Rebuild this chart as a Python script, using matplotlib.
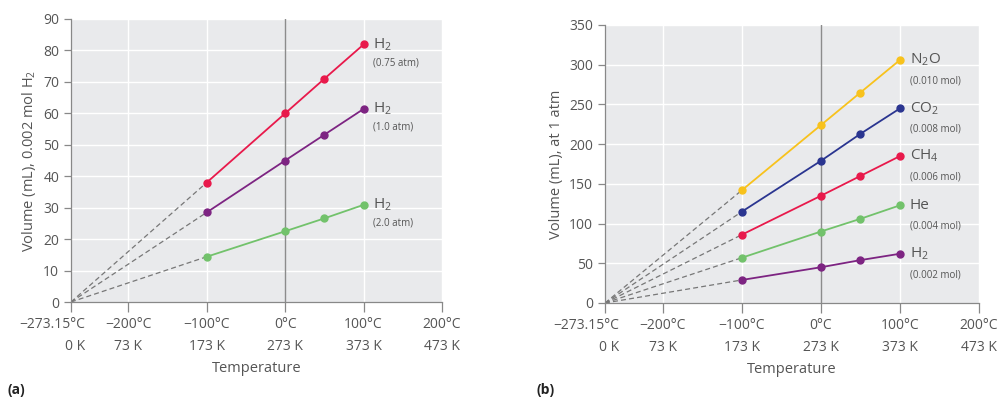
import numpy as np
import matplotlib.pyplot as plt
import matplotlib.transforms as mtransforms

plt.rcParams['font.family'] = ['Open Sans', 'DejaVu Sans']
plt.rcParams['mathtext.fontset'] = 'custom'
plt.rcParams['mathtext.rm'] = 'Open Sans'
plt.rcParams['mathtext.it'] = 'Open Sans:italic'

# 数据
temps = [-100, 0, 50, 100]
zero_k = -273.15
xticks = [-273.15, -200, -100, 0, 100, 200]
xtick_labels = ['\u2212273.15\u00b0C\n0 K', '\u2212200\u00b0C\n73 K', '\u2212100\u00b0C\n173 K',
                '0\u00b0C\n273 K', '100\u00b0C\n373 K', '200\u00b0C\n473 K']

a_names = ['H$_2$', 'H$_2$', 'H$_2$']
a_notes = ['(0.75 atm)', '(1.0 atm)', '(2.0 atm)']
a_values = [[38.0, 60.0, 71.0, 81.9],
            [28.5, 45.0, 53.2, 61.4],
            [14.4, 22.5, 26.6, 30.9]]
a_colors = ['#e8194b', '#7d2482', '#72c26b']

b_names = ['N$_2$O', 'CO$_2$', 'CH$_4$', 'He', 'H$_2$']
b_notes = ['(0.010 mol)', '(0.008 mol)', '(0.006 mol)', '(0.004 mol)', '(0.002 mol)']
b_values = [[142, 224, 265, 306],
            [115, 179, 213, 245],
            [86, 135, 160, 185],
            [57, 90, 106, 123],
            [29, 45, 54, 62]]
b_colors = ['#f8c21c', '#2a3590', '#e8194b', '#72c26b', '#7d2482']

txt = '#555555'
bg = '#e9eaec'


def draw_panel(fig, ax, names, notes, values, colors, ymax, ystep, ylabel, note_dy):
    ax.set_facecolor(bg)
    for y in np.arange(ystep, ymax + 1, ystep):
        ax.axhline(y, color='white', lw=1, zorder=0)
    for x in [-200, -100, 100, 200]:
        ax.axvline(x, color='white', lw=1, zorder=0)
    ax.axvline(0, color='#8c8c8c', lw=1, zorder=1)
    for name, note, vals, c in zip(names, notes, values, colors):
        ax.plot([zero_k, temps[0]], [0, vals[0]], ls=(0, (4, 2.5)), color='#777777', lw=0.9, zorder=2)
        ax.plot(temps, vals, color=c, lw=1.3, marker='o', ms=5, zorder=3)
        ax.annotate(name, (temps[-1], vals[-1]), xytext=(7, 0), textcoords='offset points',
                    fontsize=11, color=txt, va='center', ha='left')
        ax.annotate(note, (temps[-1], vals[-1]), xytext=(7, -note_dy), textcoords='offset points',
                    fontsize=7, color=txt, va='center', ha='left')
    ax.set_xlim(zero_k, 200)
    ax.set_ylim(0, ymax)
    ax.set_xticks(xticks)
    ax.set_xticklabels(xtick_labels, linespacing=1.6)
    ax.set_yticks(np.arange(0, ymax + 1, ystep))
    ax.tick_params(colors='#888888', labelcolor=txt, labelsize=10, length=5, width=0.9)
    ax.tick_params(axis='x', length=7, pad=4)
    # 第一个刻度标签右对齐，避免与 -200°C 重叠
    first = ax.get_xticklabels()[0]
    first.set_ha('right')
    first.set_multialignment('right')
    first.set_transform(first.get_transform() +
                        mtransforms.ScaledTranslation(10 / 72, 0, fig.dpi_scale_trans))
    for s in ['top', 'right']:
        ax.spines[s].set_visible(False)
    for s in ['left', 'bottom']:
        ax.spines[s].set_color('#888888')
        ax.spines[s].set_linewidth(0.9)
    ax.set_xlabel('Temperature', color=txt, fontsize=10.5, labelpad=5)
    ax.set_ylabel(ylabel, color=txt, fontsize=10.5, labelpad=4)


fig = plt.figure(figsize=(9.98, 4), dpi=100)
ax1 = fig.add_axes([0.0711, 0.245, 0.3718, 0.7075])
ax2 = fig.add_axes([0.6062, 0.2425, 0.3748, 0.695])

draw_panel(fig, ax1, a_names, a_notes, a_values, a_colors, 90, 10, 'Volume (mL), 0.002 mol H$_2$', 13)
draw_panel(fig, ax2, b_names, b_notes, b_values, b_colors, 350, 50, 'Volume (mL), at 1 atm', 15)

fig.text(0.008, 0.015, '(a)', fontsize=10, fontweight='bold', color='#222222')
fig.text(0.538, 0.015, '(b)', fontsize=10, fontweight='bold', color='#222222')

fig.savefig('out.png', dpi=100)
